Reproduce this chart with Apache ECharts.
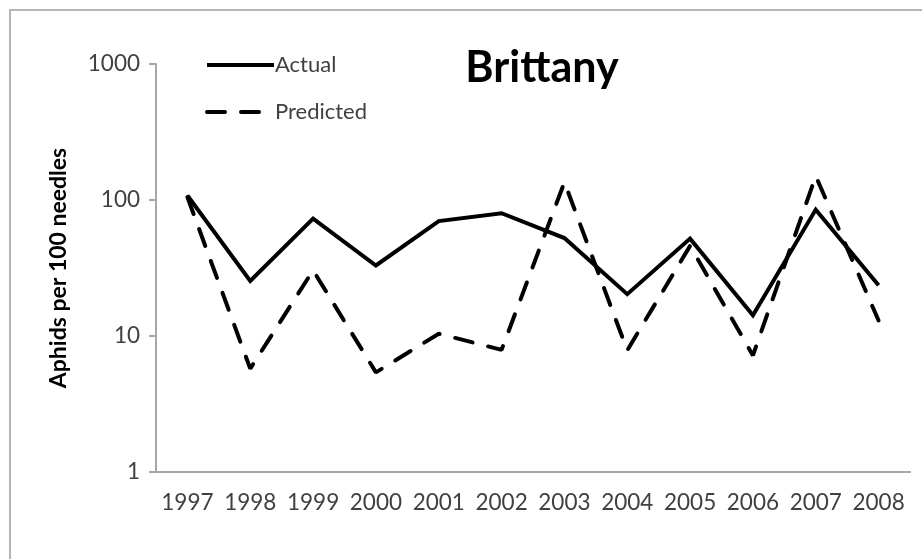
<!DOCTYPE html>
<html>
<head>
<meta charset="utf-8">
<script src="https://cdn.jsdelivr.net/npm/echarts@6/dist/echarts.min.js"></script>
<style>html,body{margin:0;padding:0;background:#fff}#c{width:922px;height:559px}</style>
</head>
<body>
<div id="c"></div>
<script>
const years = ['1997','1998','1999','2000','2001','2002','2003','2004','2005','2006','2007','2008'];
const actual = [108, 25.4, 73, 33, 70, 80, 52.5, 20.3, 52, 14.2, 85, 23.6];
const predicted = [105, 5.75, 30.4, 5.4, 10.4, 7.9, 135, 7.85, 46, 7.2, 150, 13];
const yTicks = [1, 10, 100, 1000];
const titleText = 'Brittany';
const yName = 'Aphids per 100 needles';

const FONT = 'Lato, "Open Sans", sans-serif';
const chart = echarts.init(document.getElementById('c'), null, {renderer: 'canvas'});
chart.setOption({
  animation: false,
  backgroundColor: '#fff',
  title: {
    text: titleText, left: 537, top: 42, textAlign: 'center',
    textStyle: {fontFamily: FONT, fontWeight: 'bold', fontSize: 43, color: '#000'}
  },
  legend: {
    orient: 'vertical', left: 200, top: 49, itemWidth: 67, itemHeight: 26, itemGap: 25,
    textStyle: {fontFamily: FONT, fontSize: 22, color: '#404040', padding: [0,0,0,-4]},
    itemStyle: {color: 'transparent', borderWidth: 0, opacity: 0},
    lineStyle: {width: 4, color: '#000'},
    data: ['Actual', 'Predicted']
  },
  graphic: [{
    type: 'rect', shape: {x: 10, y: 10, width: 1000, height: 1000},
    style: {fill: 'none', stroke: '#b4b4b4', lineWidth: 2}, silent: true, z: -1
  }],
  grid: {left: 156, right: 12, top: 64, bottom: 87},
  xAxis: {
    type: 'category', data: years, boundaryGap: true,
    axisLine: {lineStyle: {color: '#a6a6a6', width: 2}},
    axisTick: {length: 8, lineStyle: {color: '#a6a6a6', width: 2}},
    axisLabel: {fontFamily: FONT, fontSize: 22.5, color: '#404040', margin: 19, interval: 0}
  },
  yAxis: {
    type: 'log', logBase: 10, min: yTicks[0], max: yTicks[yTicks.length-1],
    name: yName, nameLocation: 'middle', nameGap: 86, nameRotate: 90,
    nameTextStyle: {fontFamily: FONT, fontWeight: 'bold', fontSize: 23, color: '#000'},
    axisLine: {show: true, lineStyle: {color: '#a6a6a6', width: 2}},
    axisTick: {show: true, length: 7, lineStyle: {color: '#a6a6a6', width: 2}},
    minorTick: {show: false},
    splitLine: {show: false},
    axisLabel: {fontFamily: FONT, fontSize: 22.5, color: '#404040', margin: 16,
      formatter: v => String(Math.round(v))}
  },
  series: [{
    name: 'Actual', type: 'line', data: actual, symbol: 'none',
    lineStyle: {color: '#000', width: 4, join: 'miter'}, itemStyle: {color: '#000'}
  }, {
    name: 'Predicted', type: 'line', data: predicted, symbol: 'none',
    lineStyle: {color: '#000', width: 4, type: [18, 16], cap: 'round'}, itemStyle: {color: '#000'}
  }]
});
</script>
</body>
</html>
